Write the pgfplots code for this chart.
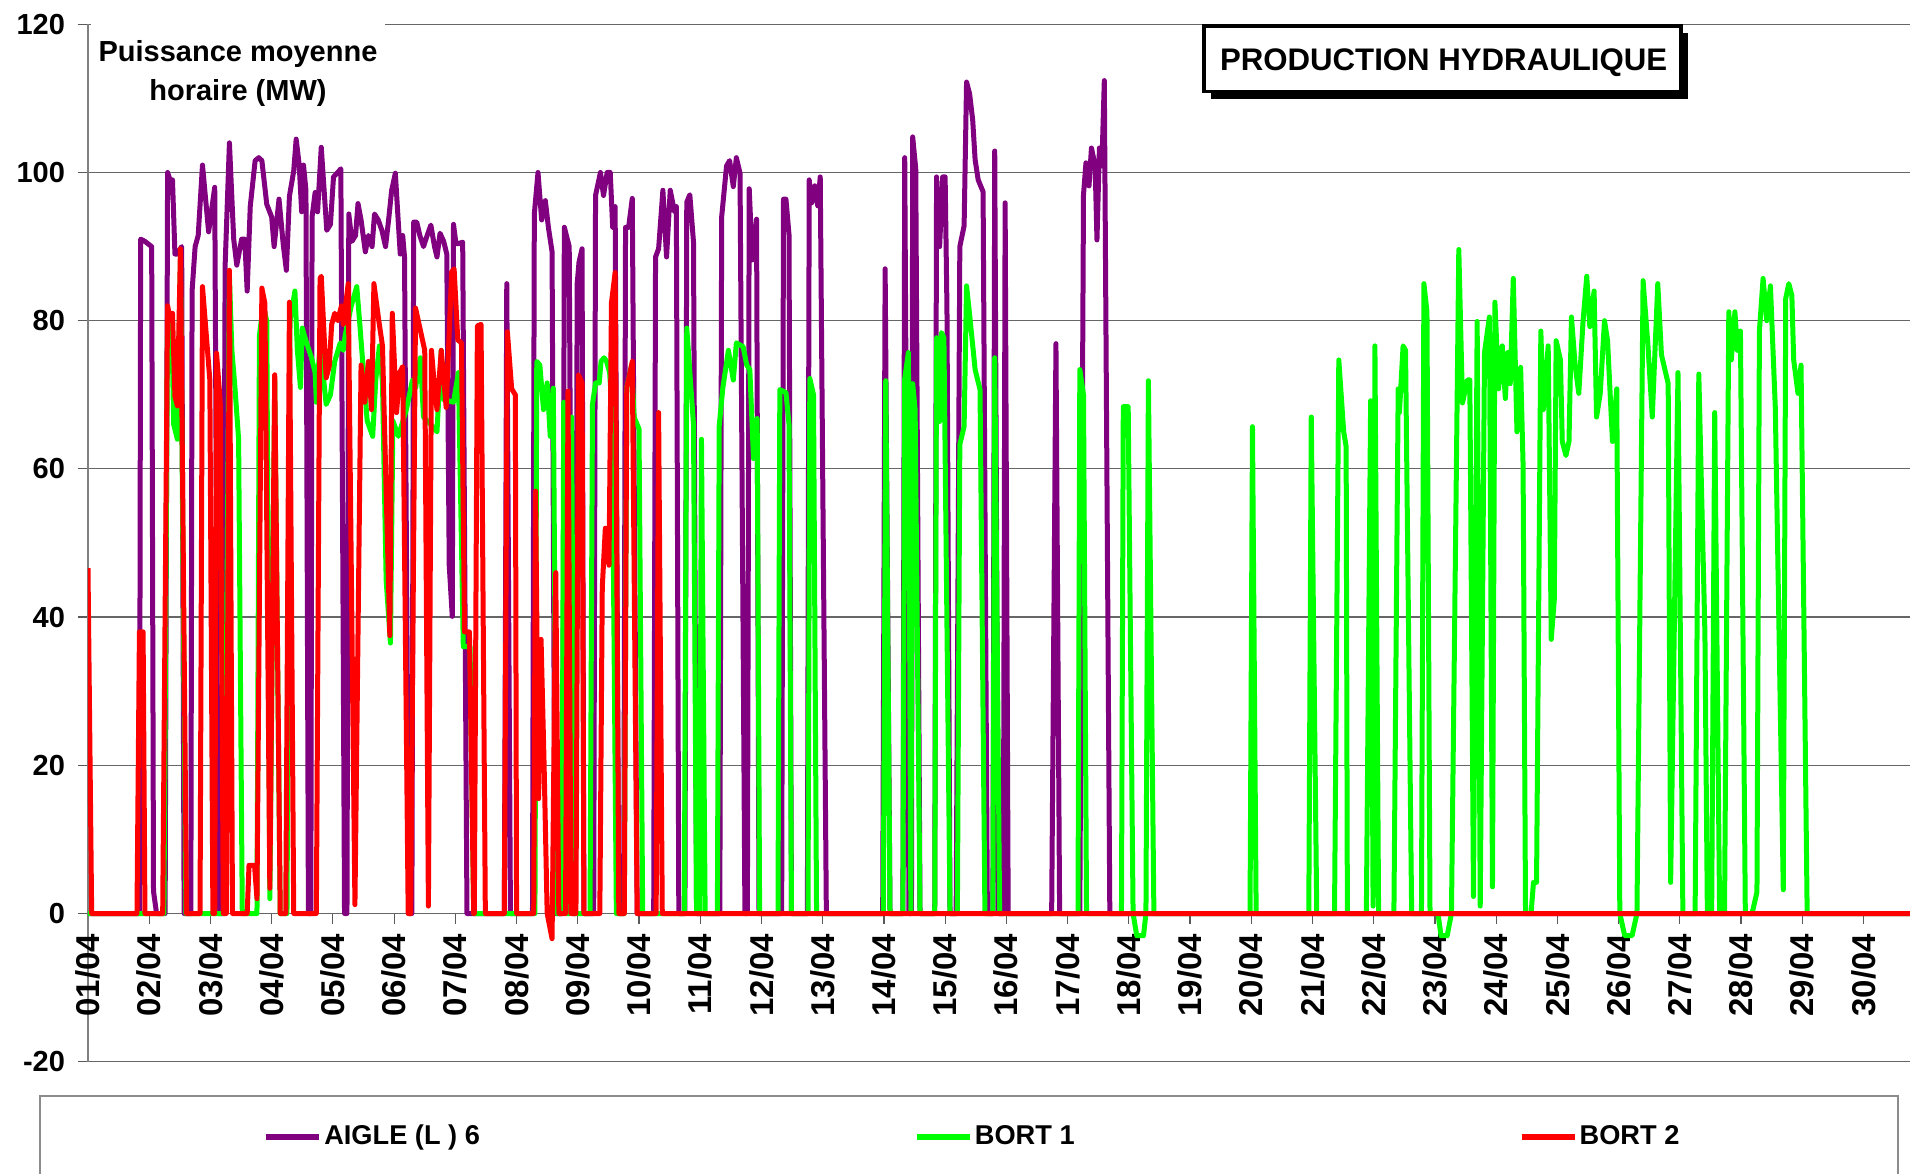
\documentclass[border=0pt]{standalone}
\usepackage{fontspec}
\setmainfont{Liberation Sans}
\usepackage{pgfplots}
\pgfplotsset{compat=1.18}
\definecolor{aigle}{HTML}{800080}
\definecolor{bortA}{HTML}{00FF00}
\definecolor{bortB}{HTML}{FF0000}
\begin{document}
\begin{tikzpicture}
\useasboundingbox (-44pt,-55.65pt) rectangle (911pt,530.85pt);
\begin{axis}[
  at={(0pt,0pt)}, anchor=south west,
  scale only axis, width=911pt, height=518.7pt,
  xmin=0, xmax=29.76, ymin=-20, ymax=120,
  axis x line=middle, axis y line=left,
  axis line style={-},
  x axis line style={black!60, line width=0.6pt},
  y axis line style={black!50, line width=0.9pt},
  ytick={-20,0,20,40,60,80,100,120},
  xtick={0,...,29},
  xticklabels={01/04,02/04,03/04,04/04,05/04,06/04,07/04,08/04,09/04,10/04,11/04,12/04,13/04,14/04,15/04,16/04,17/04,18/04,19/04,20/04,21/04,22/04,23/04,24/04,25/04,26/04,27/04,28/04,29/04,30/04},
  ymajorgrids,
  major grid style={black!60, line width=0.6pt},
  tick align=outside,
  major tick length=5pt,
  tick style={black!65, line width=0.6pt},
  hide obscured x ticks=false, hide obscured y ticks=false,
  /pgf/number format/assume math mode=true,
  yticklabel style={font=\bfseries\fontsize{14.5}{17}\selectfont, inner sep=0pt, anchor=east, xshift=-6.3pt},
  xticklabel style={font=\bfseries\fontsize{16.5}{18}\selectfont, rotate=90, anchor=east, inner sep=0pt, xshift=-5pt},
  every axis plot/.append style={line width=2.5pt, line join=round},
  legend style={at={(axis description cs:0.0960,-0.0721)}, anchor=west, draw=none, fill=none,
    legend columns=3, inner sep=0pt, font=\bfseries\fontsize{13.6}{16}\selectfont,
    /tikz/every even column/.append style={column sep=216pt},
    nodes={inner sep=1pt}},
  legend image code/.code={\draw[line width=3pt] (0pt,0pt) -- (26.5pt,0pt);},
]
% AIGLE (L) 6
\addplot[aigle] coordinates {
(0,0) (0.84,0) (0.86,91) (0.93,90.7) (1.04,90) (1.07,3) (1.12,0) (1.26,0) (1.30,100) (1.34,99) (1.38,99) (1.42,89) (1.46,89) (1.53,90) (1.57,0) (1.68,0) (1.70,84) (1.75,90) (1.80,91.5) (1.87,101) (1.97,92) (2.07,98) (2.13,0) (2.20,0) (2.24,87.5) (2.31,104) (2.38,91) (2.43,87.5) (2.51,91) (2.56,91) (2.60,84) (2.65,95.4) (2.73,101.6) (2.79,102) (2.84,101.6) (2.92,95.7) (3.0,94) (3.04,90) (3.12,96.4) (3.19,90.2) (3.24,86.8) (3.29,96.8) (3.36,100.2) (3.40,104.5) (3.45,101) (3.49,94.7) (3.52,101) (3.56,97.6) (3.60,0) (3.64,0) (3.66,94) (3.71,97.3) (3.75,94.7) (3.81,103.4) (3.90,92.2) (3.96,93) (4.01,99.4) (4.09,100.1) (4.13,100.5) (4.19,0) (4.23,0) (4.26,94.4) (4.31,90.7) (4.37,91.5) (4.41,95.8) (4.46,93.6) (4.53,89.3) (4.58,91.5) (4.64,90) (4.68,94.4) (4.74,93.6) (4.80,92.2) (4.86,90) (4.91,93.6) (4.96,97.6) (5.02,99.9) (5.06,94.4) (5.10,89) (5.14,91.5) (5.17,88.6) (5.24,0) (5.29,0) (5.32,93.3) (5.37,93.3) (5.42,91.5) (5.48,90) (5.54,91.5) (5.60,92.9) (5.66,90) (5.70,88.6) (5.75,91.8) (5.81,90.7) (5.86,89) (5.90,47) (5.95,40.1) (5.97,93) (6.01,90.4) (6.05,90.4) (6.12,90.6) (6.19,0) (6.80,0) (6.84,85) (6.90,0) (7.26,0) (7.29,94.4) (7.35,100) (7.41,93.6) (7.47,96.2) (7.52,92.6) (7.58,89.3) (7.63,0) (7.75,0) (7.78,92.6) (7.86,90) (7.92,0) (7.96,0) (7.99,85) (8.02,87.9) (8.07,89.7) (8.10,0) (8.26,0) (8.29,96.9) (8.37,100) (8.42,96.9) (8.48,100) (8.53,100) (8.57,92.6) (8.61,95.4) (8.67,0) (8.75,0) (8.78,92.6) (8.83,92.6) (8.89,96.5) (8.97,0) (9.24,0) (9.27,88.6) (9.32,89.7) (9.39,97.6) (9.45,88.6) (9.51,97.6) (9.58,94.7) (9.61,95.4) (9.65,0) (9.75,0) (9.78,96) (9.83,97) (9.89,90.6) (9.94,0) (10.32,0) (10.35,94) (10.43,100.9) (10.48,101.6) (10.54,98.1) (10.59,102) (10.65,99.9) (10.73,0) (10.77,0) (10.80,97.8) (10.85,88.2) (10.92,93.7) (10.96,0) (11.33,0) (11.36,96.4) (11.40,96.4) (11.45,91.6) (11.49,0) (11.75,0) (11.78,99) (11.82,95.9) (11.87,98.2) (11.92,95.5) (11.96,99.4) (12.06,0) (12.98,0) (13.02,87) (13.10,0) (13.31,0) (13.34,102) (13.41,0) (13.45,0) (13.47,104.8) (13.52,100.5) (13.59,0) (13.83,0) (13.86,99.4) (13.91,90) (13.96,99.4) (14.0,99.4) (14.03,81.6) (14.08,0) (14.18,0) (14.24,90) (14.31,92.8) (14.35,112.2) (14.40,110.6) (14.45,107.1) (14.49,101.7) (14.54,99) (14.62,97.4) (14.69,0) (14.78,0) (14.81,102.9) (14.87,0) (14.95,0) (14.98,95.9) (15.03,0) (15.74,0) (15.81,76.9) (15.87,0) (16.20,0) (16.26,97) (16.30,101.3) (16.35,98.2) (16.39,103.3) (16.45,100.9) (16.48,90.9) (16.52,103.3) (16.56,100.9) (16.60,112.4) (16.69,0) (29.76,0)
};
\addlegendentry{AIGLE (L ) 6}
% BORT 1
\addplot[bortA] coordinates {
(0,0) (1.24,0) (1.30,80) (1.37,79) (1.40,66) (1.46,64) (1.51,88) (1.60,0) (2.23,0) (2.31,86) (2.35,76) (2.40,71) (2.46,64) (2.52,0) (2.76,0) (2.80,78) (2.86,82) (2.92,80) (2.97,2) (3.05,72) (3.14,0) (3.25,0) (3.30,80) (3.38,84) (3.42,76) (3.47,71) (3.50,79) (3.57,77) (3.65,75) (3.71,73) (3.73,69) (3.79,77) (3.89,68.7) (3.96,70) (4.03,74.5) (4.12,77) (4.17,76) (4.20,78) (4.30,82) (4.39,84.6) (4.44,79.5) (4.56,66.5) (4.65,64.4) (4.70,72) (4.76,76.6) (4.81,71.6) (4.87,45) (4.94,36.5) (4.98,66.5) (5.07,64.4) (5.20,68) (5.30,72) (5.35,70.9) (5.43,75) (5.48,67) (5.60,66) (5.70,65) (5.77,76) (5.80,69.4) (5.97,69) (6.05,73) (6.13,36) (6.24,36) (6.30,0) (7.30,0) (7.33,74.5) (7.38,74) (7.44,68) (7.50,71.6) (7.55,64.4) (7.60,70.9) (7.66,0) (7.74,0) (7.77,69) (7.81,0) (7.87,0) (7.90,67) (7.94,0) (8.20,0) (8.24,68.7) (8.29,71.6) (8.35,71.6) (8.38,74.5) (8.43,75) (8.47,74.5) (8.52,73) (8.56,68) (8.63,0) (8.76,0) (8.80,71) (8.88,74) (8.92,67) (9.0,65.4) (9.06,0) (9.74,0) (9.78,79) (9.89,66) (9.94,0) (9.99,0) (10.02,64) (10.08,0) (10.28,0) (10.31,65.8) (10.37,71) (10.46,76) (10.54,72) (10.59,77) (10.70,76.5) (10.76,74) (10.81,73.4) (10.87,61.4) (10.93,66.8) (10.97,0) (11.27,0) (11.30,70.7) (11.40,70.3) (11.45,66) (11.49,0) (11.76,0) (11.79,72.2) (11.85,70) (11.90,0) (12.99,0) (13.03,71.9) (13.10,0) (13.31,0) (13.34,72.2) (13.40,75.7) (13.44,0) (13.47,71.5) (13.51,68) (13.59,0) (13.83,0) (13.86,77.7) (13.91,66.4) (13.94,78.4) (13.98,77.7) (14.08,0) (14.20,0) (14.24,63.3) (14.31,65.7) (14.35,84.7) (14.40,80.8) (14.49,73.4) (14.57,70.7) (14.65,0) (14.78,0) (14.81,75) (14.89,0) (16.17,0) (16.20,73.4) (16.26,70) (16.31,0) (16.88,0) (16.91,68.4) (16.99,68.4) (17.07,0) (17.13,-3) (17.24,-3) (17.28,0) (17.32,71.9) (17.41,0) (18.98,0) (19.02,65.7) (19.08,0) (19.94,0) (19.98,67) (20.07,0) (20.36,0) (20.43,74.7) (20.51,65) (20.55,63) (20.57,0) (20.88,0) (20.95,69.2) (20.99,1) (21.02,76.6) (21.08,0) (21.33,0) (21.40,70.8) (21.42,67.6) (21.48,76.6) (21.52,76) (21.62,0) (21.78,0) (21.82,85) (21.87,81.2) (21.92,0) (22.05,0) (22.10,-3) (22.20,-3) (22.27,0) (22.39,89.6) (22.45,68.9) (22.53,72) (22.57,72) (22.63,2.3) (22.69,79.9) (22.74,1) (22.81,75.7) (22.89,80.5) (22.94,3.6) (22.98,82.5) (23.04,70.8) (23.10,76.6) (23.15,69.5) (23.19,75.7) (23.23,71.5) (23.28,85.7) (23.34,65) (23.40,73.7) (23.44,60.5) (23.48,0) (23.57,0) (23.61,4.2) (23.66,4.2) (23.73,78.6) (23.77,68) (23.85,76.6) (23.90,37) (23.95,42.4) (23.98,77.3) (24.05,74.7) (24.08,63.7) (24.14,61.8) (24.19,63.7) (24.23,80.5) (24.29,74) (24.35,70.2) (24.42,80) (24.48,86) (24.53,79.2) (24.60,84) (24.64,67) (24.70,70.2) (24.77,80) (24.82,77.3) (24.90,63.7) (24.97,70.8) (25.02,0) (25.10,-3) (25.22,-3) (25.30,0) (25.40,85.4) (25.48,76.6) (25.55,67) (25.64,85) (25.70,75.4) (25.81,71.5) (25.85,4.2) (25.97,73) (26.05,0) (26.25,0) (26.31,72.8) (26.41,37.8) (26.45,0) (26.52,0) (26.57,67.6) (26.65,0) (26.73,0) (26.80,81.2) (26.84,74.7) (26.90,81.2) (26.94,76) (26.99,78.6) (27.07,0) (27.18,0) (27.26,2.9) (27.30,78.6) (27.36,85.7) (27.42,80) (27.48,84.7) (27.56,68.2) (27.69,3.2) (27.73,83) (27.78,85) (27.83,83.4) (27.86,74.7) (27.93,70.2) (27.98,74) (28.08,0) (29.76,0)
};
\addlegendentry{\mbox{BORT 1\kern5pt}}
% BORT 2
\addplot[bortB] coordinates {
(0,46.6) (0.06,0) (0.80,0) (0.84,38) (0.90,38) (0.93,0) (1.22,0) (1.30,82) (1.35,80) (1.38,81) (1.42,69.8) (1.46,68.5) (1.51,89.7) (1.61,0) (1.83,0) (1.87,84.6) (1.99,72) (2.04,0) (2.07,0) (2.10,75.6) (2.16,69) (2.21,0) (2.26,0) (2.31,86.8) (2.36,0) (2.60,0) (2.63,6.5) (2.72,6.5) (2.76,2) (2.84,84.4) (2.89,82.3) (2.97,3.4) (3.05,72.7) (3.14,0) (3.23,0) (3.29,82.5) (3.36,0) (3.73,0) (3.79,85.7) (3.81,86) (3.89,72.3) (3.94,73.8) (3.98,79.5) (4.03,81) (4.08,80) (4.14,82) (4.17,79.5) (4.25,85) (4.36,1.2) (4.46,74) (4.52,69) (4.58,74.5) (4.63,68) (4.67,85) (4.75,80) (4.81,76.6) (4.93,37.5) (4.97,81) (5.04,67.6) (5.09,73) (5.14,73.8) (5.23,0) (5.27,0) (5.35,81.7) (5.50,76) (5.56,1) (5.61,76) (5.65,72) (5.70,68) (5.77,76) (5.85,68.3) (5.94,86.6) (5.98,87) (6.04,77.4) (6.10,77) (6.15,38) (6.23,38) (6.30,0) (6.31,0) (6.36,79.3) (6.42,79.5) (6.49,0) (6.80,0) (6.85,78.5) (6.92,70.8) (6.98,70) (7.0,0) (7.28,0) (7.31,57) (7.36,15.5) (7.40,37) (7.45,20) (7.50,0) (7.58,-3.4) (7.64,46) (7.69,0) (7.80,0) (7.84,70.5) (7.89,0) (7.97,0) (8.01,72.7) (8.07,71.6) (8.10,0) (8.36,0) (8.40,44) (8.45,52) (8.51,47) (8.55,82.4) (8.61,86.5) (8.67,0) (8.76,0) (8.80,70.9) (8.89,74.5) (8.97,0) (9.28,0) (9.32,67.6) (9.38,0) (29.76,0)
};
\addlegendentry{BORT 2}
\end{axis}
% y-axis title box
\node[fill=white, inner sep=0pt, minimum width=147pt, minimum height=55pt, align=center,
      font=\bfseries\fontsize{14.5}{19.5}\selectfont] at (75pt,494.3pt) {Puissance moyenne\\horaire (MW)};
% chart title box with shadow
\fill[black] (561.5pt,481.5pt) rectangle (800pt,514.35pt);
\draw[line width=1.75pt, fill=white] (558pt,485pt) rectangle (796.5pt,517.85pt);
\node[font=\bfseries\fontsize{15.6}{18}\selectfont, inner sep=0pt] at (677.8pt,499.4pt) {PRODUCTION HYDRAULIQUE};
% legend frame
\draw[black!45, line width=1pt] (-24pt,-80pt) -- (-24pt,-17.15pt) -- (905pt,-17.15pt) -- (905pt,-80pt);
\end{tikzpicture}
\end{document}
